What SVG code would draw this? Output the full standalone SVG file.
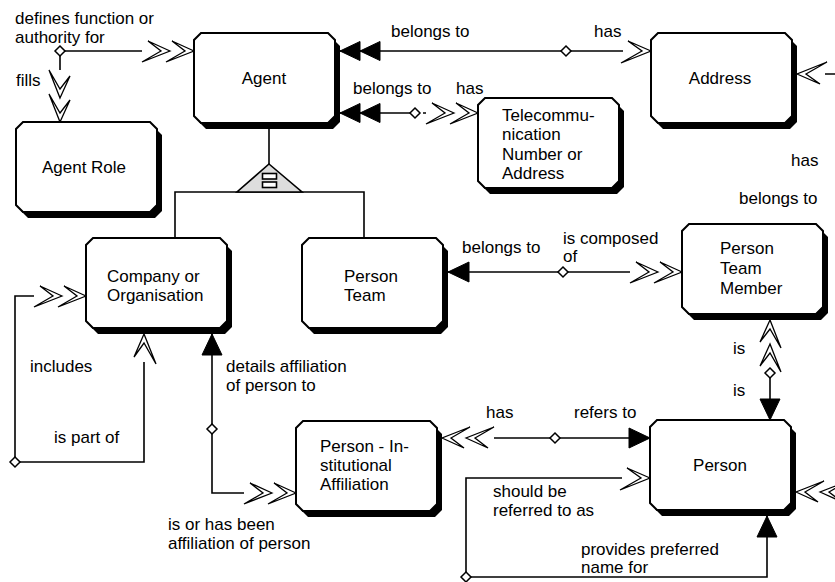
<svg xmlns="http://www.w3.org/2000/svg" xmlns:xlink="http://www.w3.org/1999/xlink" width="835" height="582" viewBox="0 0 835 582">
  <style>
    .frame { fill: #fff; stroke: #000; stroke-width: 2; }
    .shadow { fill: #000; stroke: none; }
    .conn { fill: none; stroke: #000; stroke-width: 1.6; }
    .dash { stroke-dasharray: 5 3; }
    .dia { fill: #fff; stroke: #000; stroke-width: 1.5; }
    .chev { fill: #fff; stroke: #000; stroke-width: 1.3; stroke-linejoin: miter; }
    .tri { fill: #000; stroke: #000; stroke-width: 1; }
    text { font-family: "Liberation Sans", Arial, sans-serif; font-size: 17px; fill: #000; }
    .c { text-anchor: middle; }
  </style>
  <defs>
    <!-- entity frame: rectangle with clipped corners -->
    <path id="oct" d="M7,0 H134 L141,7 V83 L134,90 H7 L0,83 V7 Z"/>
    <!-- optional-end connector point -->
    <path id="dia" d="M0,-5 L5,0 L0,5 L-5,0 Z"/>
    <!-- many: double open chevron -->
    <marker id="open2" markerUnits="userSpaceOnUse" orient="auto" overflow="visible" markerWidth="1" markerHeight="1" refX="0" refY="0">
      <rect x="-52" y="-2" width="52" height="4" fill="#fff"/>
      <path class="chev" d="M0,0 L-22,-10 L-9,0 L-28,11 Z M-24,0 L-46,-10 L-33,0 L-52,11 Z"/>
    </marker>
    <!-- single open chevron -->
    <marker id="open1" markerUnits="userSpaceOnUse" orient="auto" overflow="visible" markerWidth="1" markerHeight="1" refX="0" refY="0">
      <rect x="-28" y="-2" width="28" height="4" fill="#fff"/>
      <path class="chev" d="M0,0 L-23,-10 L-9,0 L-30,12 Z"/>
    </marker>
    <!-- double filled arrow -->
    <marker id="fill2" markerUnits="userSpaceOnUse" orient="auto" overflow="visible" markerWidth="1" markerHeight="1" refX="0" refY="0">
      <path class="tri" d="M0,0 L-20,-9.5 L-20,9.5 Z M-20,0 L-40,-9.5 L-40,9.5 Z"/>
    </marker>
    <!-- single filled arrow -->
    <marker id="fill1" markerUnits="userSpaceOnUse" orient="auto" overflow="visible" markerWidth="1" markerHeight="1" refX="0" refY="0">
      <path class="tri" d="M0,0 L-21,-10 L-21,10 Z"/>
    </marker>
  </defs>

  <rect width="835" height="582" fill="#fff"/>

  <!-- connectors -->
  <g id="connectors">
    <!-- Agent / Agent Role -->
    <path class="conn" d="M60,51 H194" marker-end="url(#open2)"/>
    <path class="conn" d="M60,51 V122" marker-end="url(#open2)"/>
    <use href="#dia" class="dia" x="60" y="51"/>

    <!-- Agent / Address -->
    <path class="conn" d="M566,51 H340" marker-end="url(#fill2)"/>
    <path class="conn" d="M566,51 H651" marker-end="url(#open1)"/>
    <use href="#dia" class="dia" x="566" y="51"/>

    <!-- Agent / Telecommunication -->
    <path class="conn" d="M415,113 H340" marker-end="url(#fill2)"/>
    <path class="conn dash" d="M415,113 H478" marker-end="url(#open2)"/>
    <use href="#dia" class="dia" x="415" y="113"/>

    <!-- Person Team / Person Team Member -->
    <path class="conn" d="M563,272 H448" marker-end="url(#fill1)"/>
    <path class="conn" d="M563,272 H682" marker-end="url(#open2)"/>
    <use href="#dia" class="dia" x="563" y="272"/>

    <!-- Person Team Member / Person -->
    <path class="conn dash" d="M770,373 V320" marker-end="url(#open2)"/>
    <path class="conn" d="M770,373 V420" marker-end="url(#fill1)"/>
    <use href="#dia" class="dia" x="770" y="373"/>

    <!-- Person - Institutional Affiliation / Person -->
    <path class="conn" d="M555,438 H442" marker-end="url(#open2)"/>
    <path class="conn" d="M555,438 H650" marker-end="url(#fill1)"/>
    <use href="#dia" class="dia" x="555" y="438"/>

    <!-- preferred name -->
    <path class="conn" d="M466,577 V478 H650" marker-end="url(#open1)"/>
    <path class="conn" d="M466,577 H767 V516" marker-end="url(#fill1)"/>
    <use href="#dia" class="dia" x="466" y="577"/>

    <!-- Company recursion -->
    <path class="conn" d="M15,462 V296 H86" marker-end="url(#open2)"/>
    <path class="conn" d="M15,462 H144 V334" marker-end="url(#open1)"/>
    <use href="#dia" class="dia" x="15" y="462"/>

    <!-- Company / Person - Institutional Affiliation -->
    <path class="conn" d="M212,429 V334" marker-end="url(#fill1)"/>
    <path class="conn" d="M212,429 V493 H296" marker-end="url(#open2)"/>
    <use href="#dia" class="dia" x="212" y="429"/>

    <!-- links running off the right edge -->
    <path class="conn" d="M835,74 H797" marker-end="url(#open1)"/>
    <path class="conn" d="M835,492 H796" marker-end="url(#open2)"/>

    <!-- connector labels -->
    <text x="15" y="23.5">defines function or</text>
    <text x="15" y="42.5">authority for</text>
    <text x="16" y="86">fills</text>
    <text x="391" y="37">belongs to</text>
    <text x="594" y="37">has</text>
    <text x="353" y="94">belongs to</text>
    <text x="456" y="94">has</text>
    <text x="791" y="166">has</text>
    <text x="739" y="204">belongs to</text>
    <text x="462" y="253">belongs to</text>
    <text x="563" y="244">is composed</text>
    <text x="563" y="262">of</text>
    <text x="733" y="354">is</text>
    <text x="733" y="395.5">is</text>
    <text x="30" y="372">includes</text>
    <text x="54" y="443">is part of</text>
    <text x="226" y="372">details affiliation</text>
    <text x="226" y="390.5">of person to</text>
    <text x="168" y="530">is or has been</text>
    <text x="168" y="548.5">affiliation of person</text>
    <text x="486" y="418">has</text>
    <text x="574" y="418">refers to</text>
    <text x="493" y="497">should be</text>
    <text x="493" y="516">referred to as</text>
    <text x="581" y="555">provides preferred</text>
    <text x="581" y="573">name for</text>
  </g>

  <!-- subtype hierarchy under Agent -->
  <g id="subtype">
    <path class="conn" d="M269,129 V164"/>
    <path class="conn" d="M175,238 V192 H364 V238"/>
    <path d="M269,164 L302,192 L237,192 Z" fill="#ddd" stroke="#000" stroke-width="1.6"/>
    <rect x="262.5" y="173.5" width="14" height="5.5" fill="#fff" stroke="#000" stroke-width="1.6"/>
    <rect x="262.5" y="182" width="14" height="5.5" fill="#fff" stroke="#000" stroke-width="1.6"/>
  </g>

  <!-- entities -->
  <g id="agent" transform="translate(194,33)">
    <use href="#oct" class="shadow" x="5" y="6"/>
    <use href="#oct" class="frame"/>
    <text x="70" y="51" class="c">Agent</text>
  </g>
  <g id="agent-role" transform="translate(16,122)">
    <use href="#oct" class="shadow" x="5" y="6"/>
    <use href="#oct" class="frame"/>
    <text x="68" y="51" class="c">Agent Role</text>
  </g>
  <g id="address" transform="translate(651,33)">
    <use href="#oct" class="shadow" x="5" y="6"/>
    <use href="#oct" class="frame"/>
    <text x="69" y="51" class="c">Address</text>
  </g>
  <g id="telecommunication" transform="translate(478,98)">
    <use href="#oct" class="shadow" x="5" y="6"/>
    <use href="#oct" class="frame"/>
    <text x="24" y="23">Telecommu-</text>
    <text x="24" y="42">nication</text>
    <text x="24" y="61.5">Number or</text>
    <text x="24" y="81">Address</text>
  </g>
  <g id="company" transform="translate(86,238)">
    <use href="#oct" class="shadow" x="5" y="6"/>
    <use href="#oct" class="frame"/>
    <text x="21" y="44">Company or</text>
    <text x="21" y="63">Organisation</text>
  </g>
  <g id="person-team" transform="translate(302,238)">
    <use href="#oct" class="shadow" x="5" y="6"/>
    <use href="#oct" class="frame"/>
    <text x="42" y="44">Person</text>
    <text x="42" y="63">Team</text>
  </g>
  <g id="person-team-member" transform="translate(682,224)">
    <use href="#oct" class="shadow" x="5" y="6"/>
    <use href="#oct" class="frame"/>
    <text x="38" y="30">Person</text>
    <text x="38" y="50">Team</text>
    <text x="38" y="69.5">Member</text>
  </g>
  <g id="person" transform="translate(650,420)">
    <use href="#oct" class="shadow" x="5" y="6"/>
    <use href="#oct" class="frame"/>
    <text x="70" y="51" class="c">Person</text>
  </g>
  <g id="affiliation" transform="translate(296,421)">
    <use href="#oct" class="shadow" x="5" y="6"/>
    <use href="#oct" class="frame"/>
    <text x="24" y="31">Person - In-</text>
    <text x="24" y="50">stitutional</text>
    <text x="24" y="69">Affiliation</text>
  </g>
</svg>
